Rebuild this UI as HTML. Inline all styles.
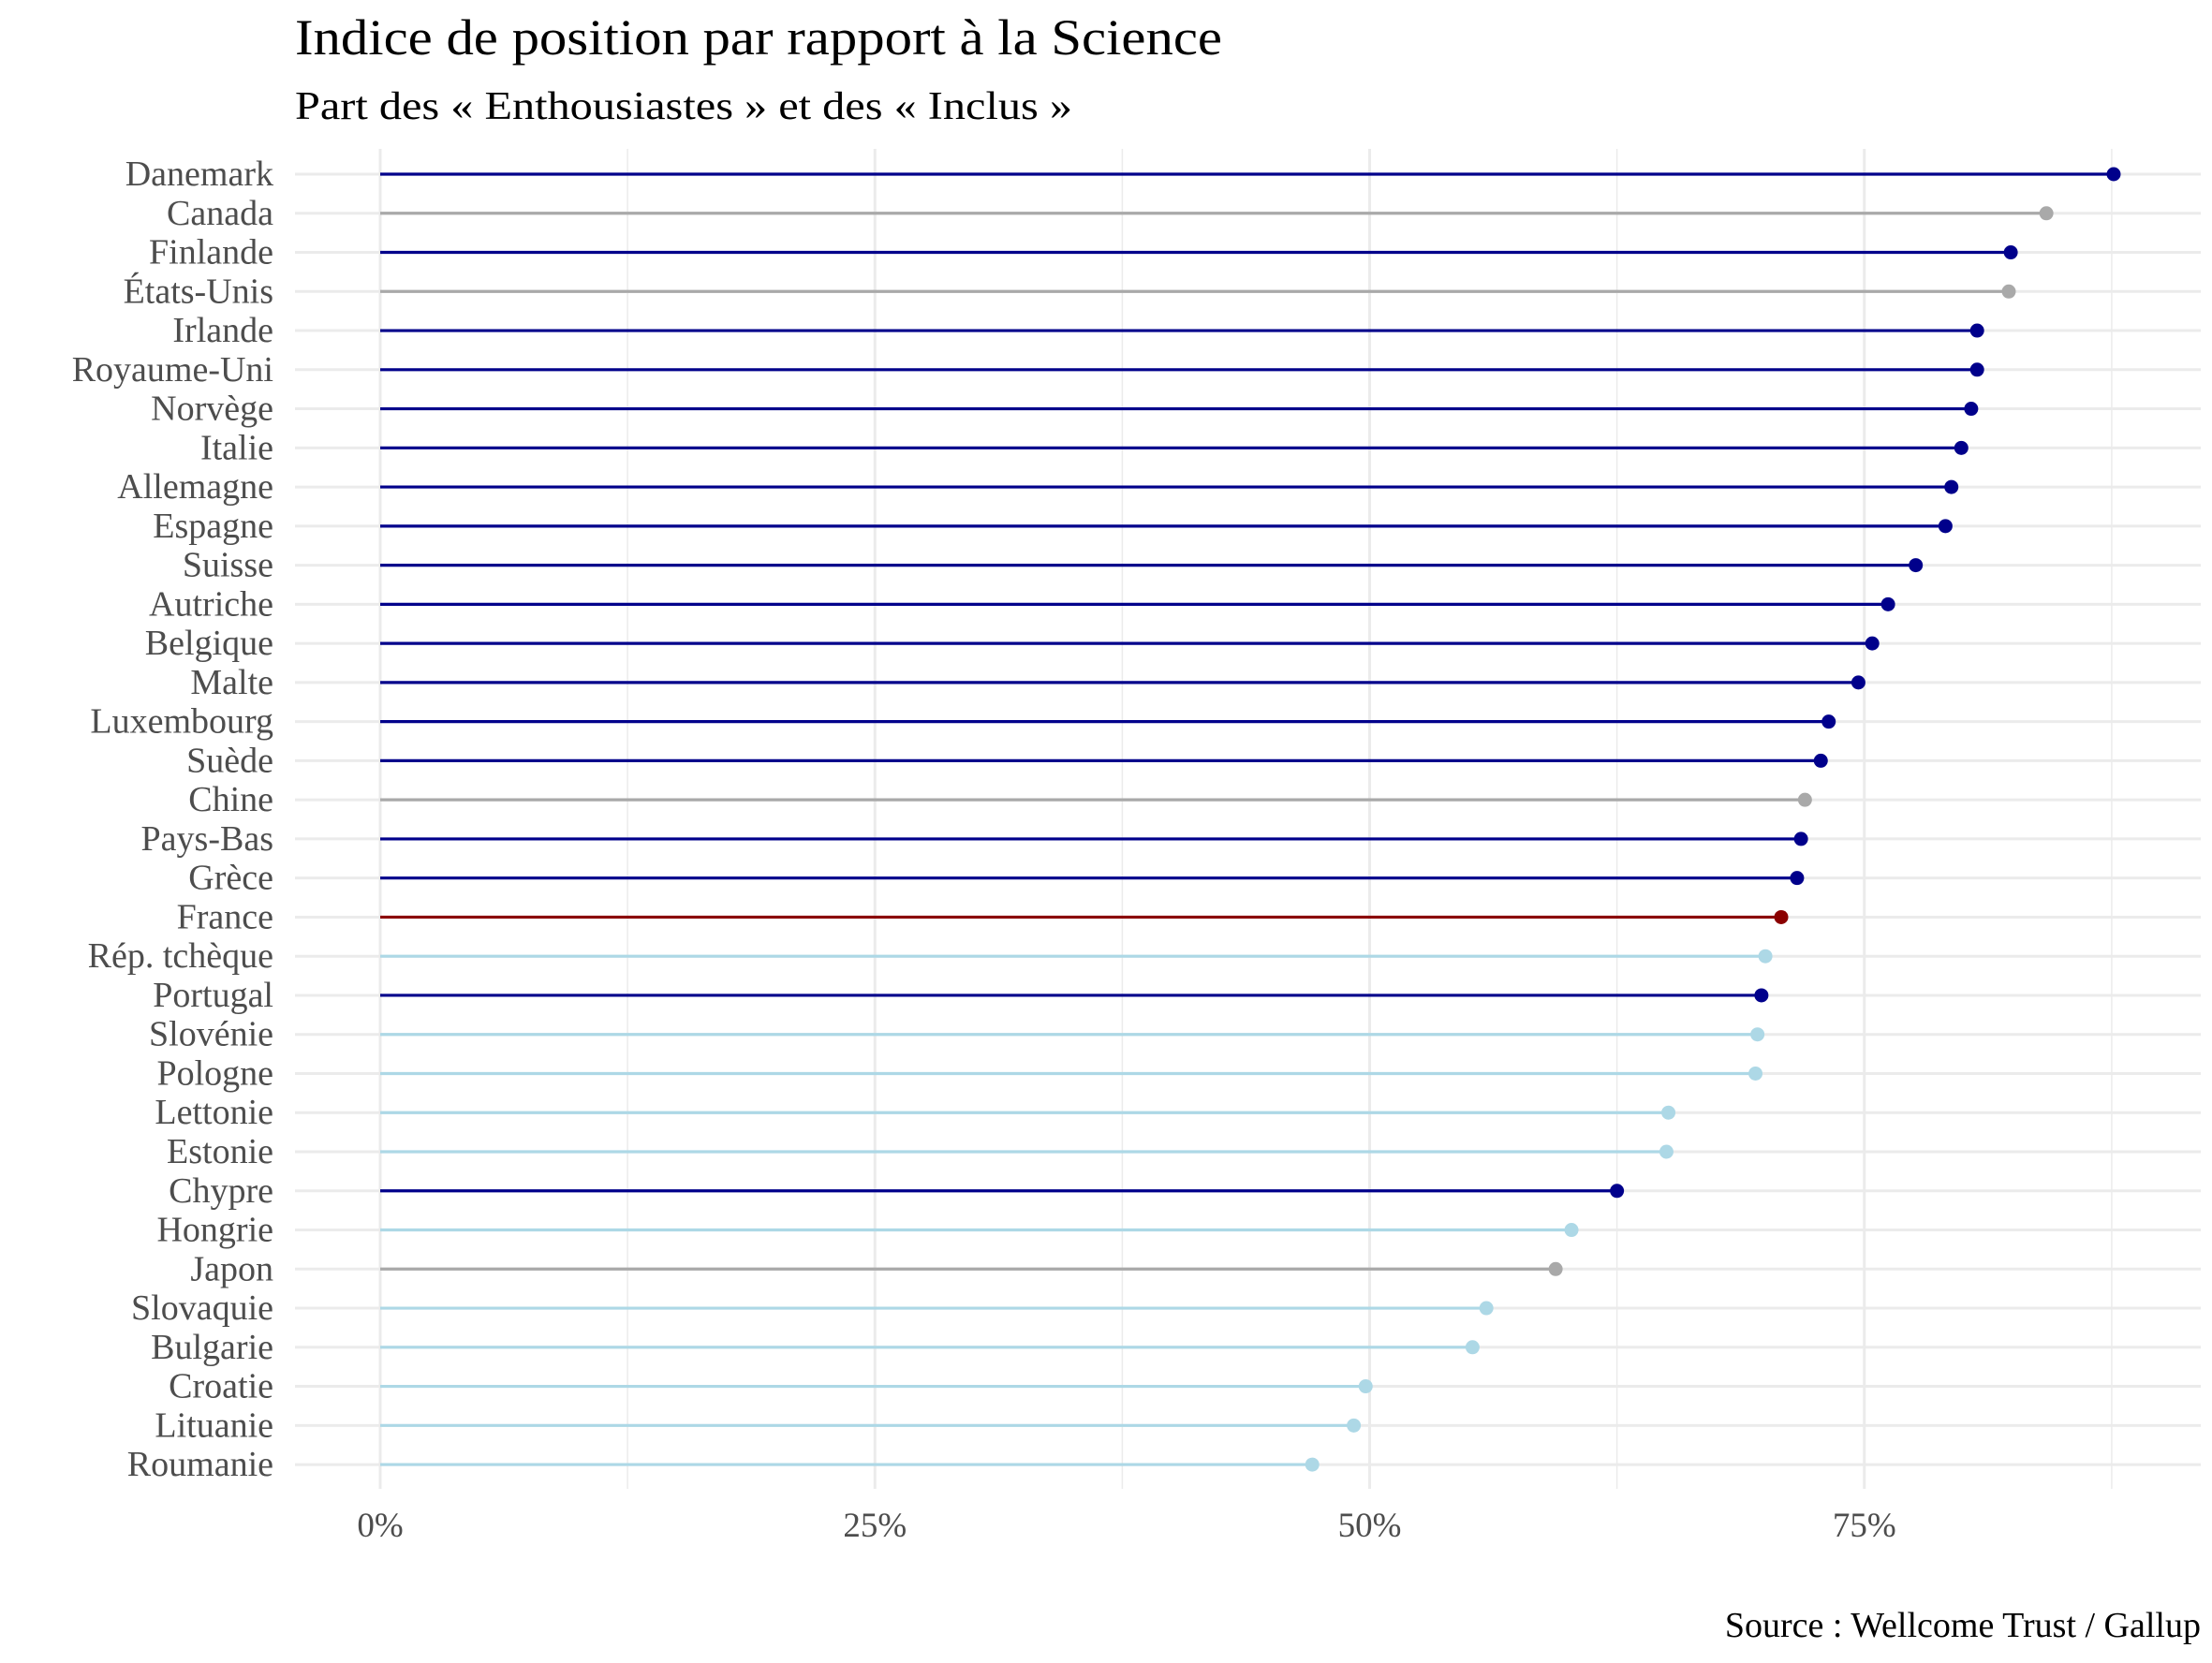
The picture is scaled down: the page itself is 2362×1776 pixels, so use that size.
<!DOCTYPE html>
<html><head><meta charset="utf-8"><style>
html,body{margin:0;padding:0;background:#fff;}
svg text{font-family:"Liberation Serif",serif;}
</style></head><body>
<svg id="chart" width="2362" height="1771" viewBox="0 0 2362 1771" xmlns="http://www.w3.org/2000/svg">
<text x="315" y="58" font-size="54" fill="#000" textLength="990" lengthAdjust="spacingAndGlyphs">Indice de position par rapport à la Science</text>
<text x="315" y="127" font-size="42" fill="#000" textLength="830" lengthAdjust="spacingAndGlyphs">Part des « Enthousiastes » et des « Inclus »</text>
<g id="grid"></g>
<g id="marks"></g>
<g id="ylabels"></g>
<g id="xlabels"></g>
<text x="2350" y="1748" font-size="38" fill="#000" text-anchor="end">Source : Wellcome Trust / Gallup</text>
</svg>
<script>
const countries = ["Danemark","Canada","Finlande","États-Unis","Irlande","Royaume-Uni","Norvège","Italie","Allemagne","Espagne","Suisse","Autriche","Belgique","Malte","Luxembourg","Suède","Chine","Pays-Bas","Grèce","France","Rép. tchèque","Portugal","Slovénie","Pologne","Lettonie","Estonie","Chypre","Hongrie","Japon","Slovaquie","Bulgarie","Croatie","Lituanie","Roumanie"];
const values = [87.6,84.2,82.4,82.3,80.7,80.7,80.4,79.9,79.4,79.1,77.6,76.2,75.4,74.7,73.2,72.8,72.0,71.8,71.6,70.8,70.0,69.8,69.6,69.5,65.1,65.0,62.5,60.2,59.4,55.9,55.2,49.8,49.2,47.1];
const groups = ["eu","other","eu","other","eu","eu","eu","eu","eu","eu","eu","eu","eu","eu","eu","eu","other","eu","eu","fr","east","eu","east","east","east","east","eu","east","other","east","east","east","east","east"];
const xTicks = [0,25,50,75];
const xTickLabels = ["0%","25%","50%","75%"];
const colors = {eu:"#00008B",other:"#A9A9A9",fr:"#8B0000",east:"#ADD8E6"};
const NS="http://www.w3.org/2000/svg";
const x0=406, pxPer=21.13, panelL=315, panelR=2350, panelT=159, panelB=1590;
const y0=186, rowH=41.76;
function xs(v){return x0+v*pxPer;}
function ys(i){return y0+i*rowH;}
function mk(tag,attrs,parent){const e=document.createElementNS(NS,tag);for(const k in attrs)e.setAttribute(k,attrs[k]);parent.appendChild(e);return e;}
const grid=document.getElementById('grid'), marks=document.getElementById('marks'), yl=document.getElementById('ylabels'), xl=document.getElementById('xlabels');
for(let v=12.5; xs(v)<panelR; v+=25){
  const l=mk('line',{x1:xs(v),x2:xs(v),y1:panelT,y2:panelB,stroke:"#EBEBEB","stroke-width":1.5},grid);
  
  
}
for(let v=0; xs(v)<panelR; v+=25){
  const l=mk('line',{x1:xs(v),x2:xs(v),y1:panelT,y2:panelB,stroke:"#EBEBEB","stroke-width":3},grid);
  
  
}
countries.forEach((c,i)=>{
  const g=mk('line',{x1:panelL,x2:panelR,y1:ys(i),y2:ys(i),stroke:"#EBEBEB","stroke-width":3},grid);
  
  
  const col=colors[groups[i]];
  const s=mk('line',{x1:xs(0),x2:xs(values[i]),y1:ys(i),y2:ys(i),stroke:col,"stroke-width":3.2},marks);
  
  
  const p=mk('circle',{cx:xs(values[i]),cy:ys(i),r:7.5,fill:col},marks);
  
  
  const t=mk('text',{x:292,y:ys(i)+12,"font-size":38,fill:"#4D4D4D","text-anchor":"end"},yl);
  t.textContent=c;
  
  
});
xTicks.forEach((v,i)=>{
  const t=mk('text',{x:xs(v),y:1641,"font-size":37,fill:"#4D4D4D","text-anchor":"middle"},xl);
  t.textContent=xTickLabels[i];
  
  
});
</script>
</body></html>
